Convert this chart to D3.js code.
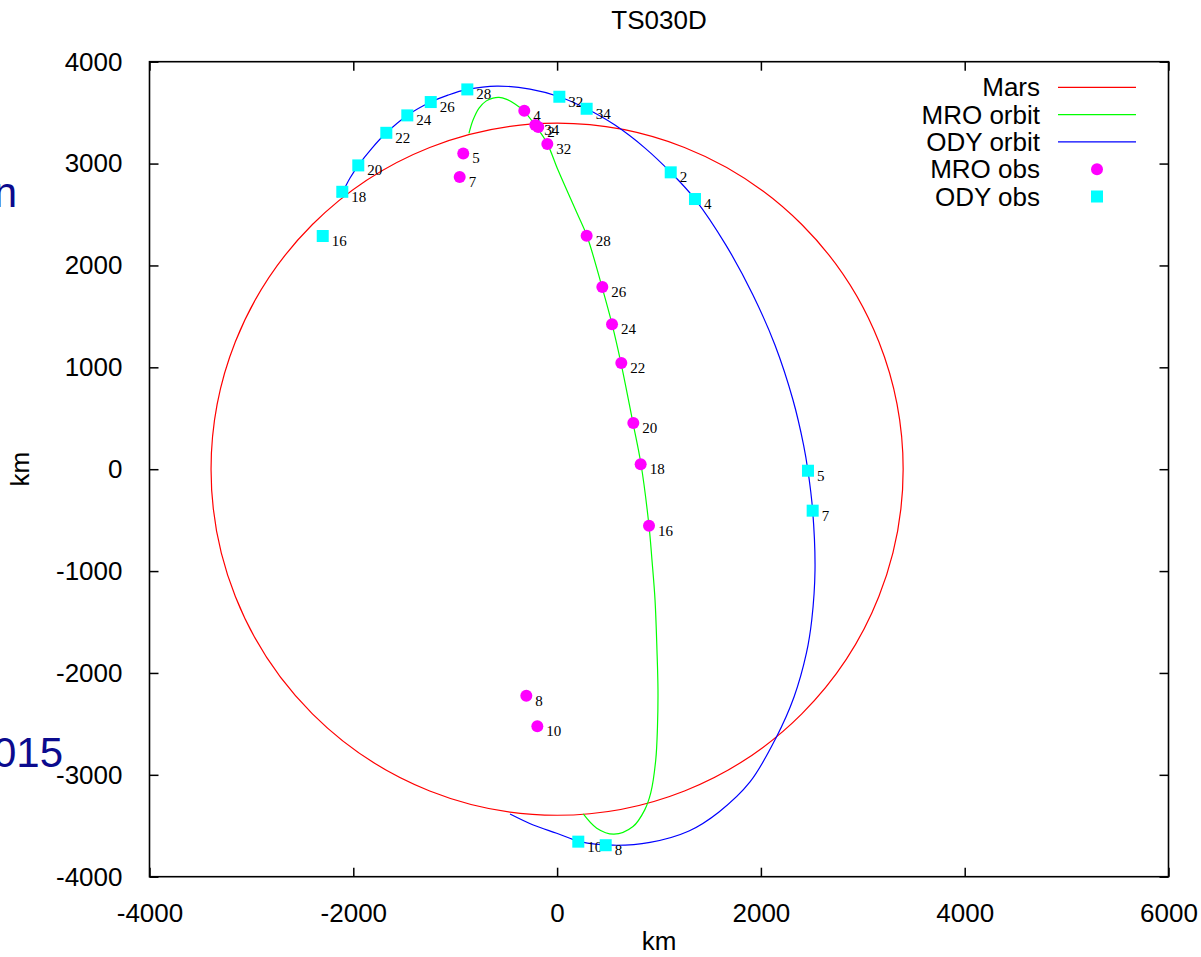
<!DOCTYPE html>
<html>
<head>
<meta charset="utf-8">
<script src="https://cdn.jsdelivr.net/npm/d3@7"></script>
<style>
  html, body { margin: 0; padding: 0; background: #fff; }
  svg { display: block; }
</style>
</head>
<body>
<svg id="chart" width="1201" height="957"></svg>
<script>
// ---------- data (km) ----------
const title = "TS030D";
const xTicks = [-4000, -2000, 0, 2000, 4000, 6000];
const yTicks = [-4000, -3000, -2000, -1000, 0, 1000, 2000, 3000, 4000];
const marsRadius = [3396];

const mroOrbitX = [-865, -825, -766, -698, -629, -570, -501, -413, -325, -217, -99, 9, 195, 293, 441, 539, 627, 745, 823, 902, 931, 961, 980, 990, 985, 968, 919, 860, 745, 558, 389, 257];
const mroOrbitY = [3296, 3427, 3545, 3613, 3643, 3650, 3633, 3584, 3515, 3378, 3201, 2936, 2514, 2289, 1788, 1425, 1042, 453, 51, -557, -891, -1284, -1774, -2167, -2530, -2854, -3178, -3344, -3508, -3583, -3524, -3384];

const odyOrbitX = [-2160, -2108, -2032, -1951, -1816, -1676, -1470, -1240, -1071, -881, -590, -266, 22, 290, 568, 863, 1115, 1353, 1657, 1922, 2138, 2315, 2419, 2462, 2508, 2531, 2499, 2447, 2325, 2148, 1893, 1589, 1294, 912, 549, 225, -4, -234, -462];
const odyOrbitY = [2671, 2723, 2858, 2982, 3152, 3302, 3473, 3604, 3672, 3728, 3761, 3731, 3656, 3538, 3378, 3152, 2914, 2652, 2200, 1710, 1219, 679, 237, -15, -407, -989, -1480, -1804, -2236, -2638, -3070, -3364, -3551, -3663, -3691, -3656, -3573, -3492, -3384];

const mroObsLabels = ["4", "34", "2", "32", "5", "7", "28", "26", "24", "22", "20", "18", "16", "8", "10"];
const mroObsX = [-322, -214, -185, -96, -921, -956, 290, 444, 539, 630, 748, 820, 902, -302, -194];
const mroObsY = [3518, 3378, 3360, 3191, 3100, 2868, 2291, 1788, 1422, 1042, 453, 48, -554, -2223, -2523];

const odyObsLabels = ["16", "18", "20", "22", "24", "26", "28", "32", "34", "2", "4", "5", "7", "10", "8"];
const odyObsX = [-2300, -2108, -1951, -1676, -1470, -1240, -881, 22, 290, 1115, 1353, 2462, 2508, 208, 477];
const odyObsY = [2289, 2723, 2982, 3302, 3473, 3604, 3728, 3656, 3538, 2914, 2652, -15, -407, -3656, -3691];

const legendNames = ["Mars", "MRO orbit", "ODY orbit", "MRO obs", "ODY obs"];

// ---------- layout ----------
const svg = d3.select("#chart");
const L = 149.5, R = 1168.5, T = 61.7, B = 876.7;
const x = d3.scaleLinear().domain([-4000, 6000]).range([L, R]);
const y = d3.scaleLinear().domain([-4000, 4000]).range([B, T]);
const sansFont = "'Liberation Sans', Arial, Helvetica, sans-serif";
const serifFont = "'Liberation Serif', 'Times New Roman', serif";

// background stray slide text (cut off at the left edge as in the reference)
svg.append("text").attr("x", 17).attr("y", 207).attr("text-anchor", "end")
  .attr("font-family", sansFont).attr("font-size", 42).attr("fill", "#0b0b8e").text("n");
svg.append("text").attr("x", 63).attr("y", 767).attr("text-anchor", "end")
  .attr("font-family", sansFont).attr("font-size", 42).attr("fill", "#0b0b8e").text("2015");

// clip
svg.append("defs").append("clipPath").attr("id", "plotclip")
  .append("rect").attr("x", L).attr("y", T).attr("width", R - L).attr("height", B - T);

// axes (inward ticks, mirrored)
function styleAxis(g, showText) {
  g.select(".domain").remove();
  g.selectAll(".tick line").attr("stroke", "#000").attr("stroke-width", 1.5);
  g.selectAll(".tick text").attr("font-family", sansFont).attr("font-size", 26).attr("fill", "#000");
  if (!showText) g.selectAll(".tick text").remove();
}
const fmt = d => String(d);
svg.append("g").attr("transform", `translate(0,${B})`)
  .call(d3.axisBottom(x).tickValues(xTicks).tickFormat(fmt).tickSizeInner(-9).tickSizeOuter(0).tickPadding(27))
  .call(g => styleAxis(g, true));
svg.append("g").attr("transform", `translate(0,${T})`)
  .call(d3.axisTop(x).tickValues(xTicks).tickSizeInner(-9).tickSizeOuter(0))
  .call(g => styleAxis(g, false));
svg.append("g").attr("transform", `translate(${L},0)`)
  .call(d3.axisLeft(y).tickValues(yTicks).tickFormat(fmt).tickSizeInner(-9).tickSizeOuter(0).tickPadding(27))
  .call(g => styleAxis(g, true));
svg.append("g").attr("transform", `translate(${R},0)`)
  .call(d3.axisRight(y).tickValues(yTicks).tickSizeInner(-9).tickSizeOuter(0))
  .call(g => styleAxis(g, false));

// plot content
const plot = svg.append("g").attr("clip-path", "url(#plotclip)");

// Mars
plot.selectAll("circle.mars").data(marsRadius).join("circle")
  .attr("class", "mars")
  .attr("cx", x(0)).attr("cy", y(0))
  .attr("r", d => x(d) - x(0))
  .attr("fill", "none").attr("stroke", "#ff0000").attr("stroke-width", 1.2);

const line = d3.line().x(d => x(d[0])).y(d => y(d[1])).curve(d3.curveCatmullRom.alpha(0.5));
plot.append("path").datum(d3.zip(mroOrbitX, mroOrbitY)).attr("d", line)
  .attr("fill", "none").attr("stroke", "#00ff00").attr("stroke-width", 1.2);
plot.append("path").datum(d3.zip(odyOrbitX, odyOrbitY)).attr("d", line)
  .attr("fill", "none").attr("stroke", "#0000ff").attr("stroke-width", 1.2);

// labels
const mroObs = mroObsLabels.map((l, i) => ({ l, x: mroObsX[i], y: mroObsY[i] }));
const odyObs = odyObsLabels.map((l, i) => ({ l, x: odyObsX[i], y: odyObsY[i] }));
[mroObs, odyObs].forEach(arr => {
  plot.append("g").selectAll("text").data(arr).join("text")
    .attr("x", d => x(d.x) + 9).attr("y", d => y(d.y) + 10)
    .attr("font-family", serifFont).attr("font-size", 15).attr("fill", "#000")
    .text(d => d.l);
});
// markers
plot.append("g").selectAll("circle").data(mroObs).join("circle")
  .attr("cx", d => x(d.x)).attr("cy", d => y(d.y)).attr("r", 6).attr("fill", "#ff00ff");
plot.append("g").selectAll("rect").data(odyObs).join("rect")
  .attr("x", d => x(d.x) - 6).attr("y", d => y(d.y) - 6).attr("width", 12).attr("height", 12)
  .attr("fill", "#00ffff");

// border
svg.append("rect").attr("x", L).attr("y", T).attr("width", R - L).attr("height", B - T)
  .attr("fill", "none").attr("stroke", "#000").attr("stroke-width", 1.6);

// title and axis labels
svg.append("text").attr("x", (L + R) / 2).attr("y", 29).attr("text-anchor", "middle")
  .attr("font-family", sansFont).attr("font-size", 26).attr("fill", "#000").text(title);
svg.append("text").attr("x", (L + R) / 2).attr("y", 950).attr("text-anchor", "middle")
  .attr("font-family", sansFont).attr("font-size", 26).attr("fill", "#000").text("km");
svg.append("text").attr("transform", `translate(29,${(T + B) / 2}) rotate(-90)`).attr("text-anchor", "middle")
  .attr("font-family", sansFont).attr("font-size", 26).attr("fill", "#000").text("km");

// legend
const legColors = ["#ff0000", "#00ff00", "#0000ff", "#ff00ff", "#00ffff"];
const legY0 = 87.3, legDy = 27.3;
const leg = svg.append("g");
legendNames.forEach((name, i) => {
  const cy = legY0 + i * legDy;
  leg.append("text").attr("x", 1040).attr("y", cy + 9).attr("text-anchor", "end")
    .attr("font-family", sansFont).attr("font-size", 26).attr("fill", "#000").text(name);
  if (i < 3) {
    leg.append("line").attr("x1", 1058).attr("x2", 1136).attr("y1", cy).attr("y2", cy)
      .attr("stroke", legColors[i]).attr("stroke-width", 1.2);
  } else if (i === 3) {
    leg.append("circle").attr("cx", 1097).attr("cy", cy).attr("r", 6).attr("fill", legColors[i]);
  } else {
    leg.append("rect").attr("x", 1091).attr("y", cy - 6).attr("width", 12).attr("height", 12).attr("fill", legColors[i]);
  }
});
</script>
</body>
</html>
